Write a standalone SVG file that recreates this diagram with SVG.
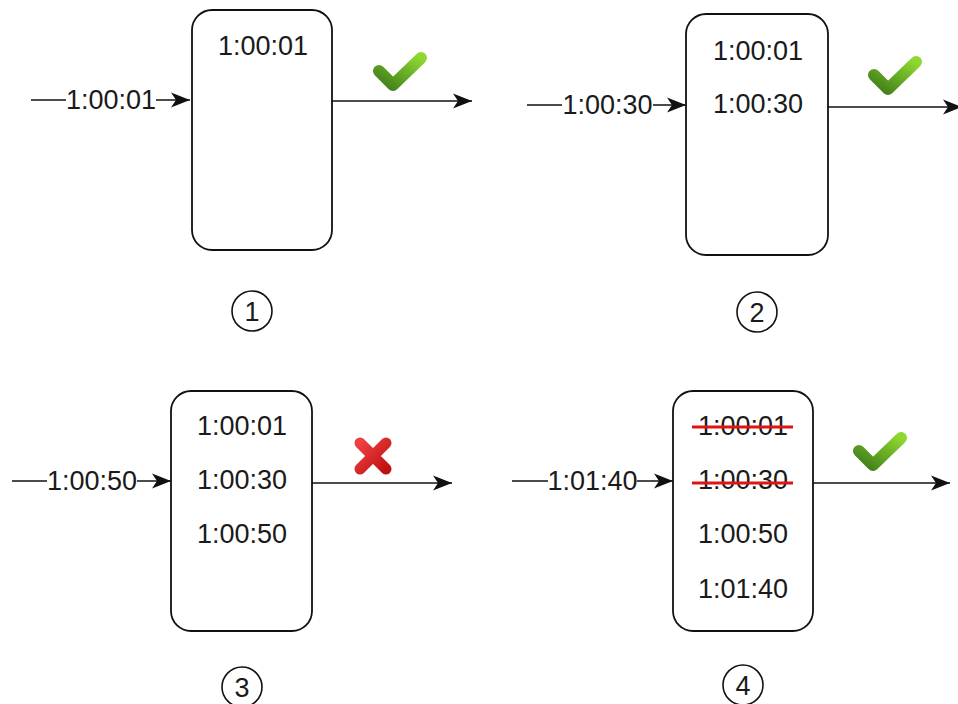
<svg xmlns="http://www.w3.org/2000/svg" width="958" height="704" viewBox="0 0 958 704">
<style>
.box{fill:#fff;stroke:#111;stroke-width:1.8}
.t{font-family:"Liberation Sans",Arial,sans-serif;font-size:27px;fill:#1a1a1a;text-anchor:middle}
.wire{fill:none;stroke:#111;stroke-width:1.6}
.lblbg{fill:#fff}
.strike{stroke:#e01414;stroke-width:3;fill:none}
.num{fill:#fff;stroke:#111;stroke-width:1.6}
</style>
<defs>
<marker id="arr" markerUnits="userSpaceOnUse" markerWidth="20" markerHeight="16" refX="19" refY="8" orient="auto" overflow="visible">
<path d="M0,0.5 L19,8 L0,15.5 L5,8 Z" fill="#111"/>
</marker>
<linearGradient id="gGreen" x1="0" y1="1" x2="1" y2="0">
<stop offset="0" stop-color="#3f7d1a"/>
<stop offset="1" stop-color="#8fd830"/>
</linearGradient>
<linearGradient id="gRed" x1="0" y1="0" x2="1" y2="1">
<stop offset="0" stop-color="#ee4040"/>
<stop offset="1" stop-color="#c01212"/>
</linearGradient>
<g id="check">
<path d="M6,19 L20,33 L48,6" fill="none" stroke="url(#gGreen)" stroke-width="12" stroke-linecap="round" stroke-linejoin="round"/>
</g>
</defs>

<g id="connectors">
<path class="wire" d="M31,100 H190" marker-end="url(#arr)"/>
<rect class="lblbg" x="66" y="88" width="90" height="24"/>
<text class="t" x="111" y="109">1:00:01</text>
<path class="wire" d="M332,101 H472" marker-end="url(#arr)"/>

<path class="wire" d="M527,105 H686" marker-end="url(#arr)"/>
<rect class="lblbg" x="562" y="93" width="91" height="24"/>
<text class="t" x="607.5" y="114">1:00:30</text>
<path class="wire" d="M828,107 H962" marker-end="url(#arr)"/>

<path class="wire" d="M12,481 H171" marker-end="url(#arr)"/>
<rect class="lblbg" x="47" y="469" width="90" height="24"/>
<text class="t" x="92" y="490">1:00:50</text>
<path class="wire" d="M312,483 H452" marker-end="url(#arr)"/>

<path class="wire" d="M512,481 H673" marker-end="url(#arr)"/>
<rect class="lblbg" x="548" y="469" width="89" height="24"/>
<text class="t" x="592.5" y="490">1:01:40</text>
<path class="wire" d="M813,483 H950" marker-end="url(#arr)"/>
</g>

<g id="window1">
<rect class="box" x="192" y="10" width="140" height="240" rx="20"/>
<text class="t" x="263" y="55">1:00:01</text>
</g>
<g id="window2">
<rect class="box" x="686" y="14" width="142" height="241" rx="20"/>
<text class="t" x="758" y="60">1:00:01</text>
<text class="t" x="758" y="113">1:00:30</text>
</g>
<g id="window3">
<rect class="box" x="171" y="391" width="141" height="240" rx="20"/>
<text class="t" x="242" y="435">1:00:01</text>
<text class="t" x="242" y="489">1:00:30</text>
<text class="t" x="242" y="543">1:00:50</text>
</g>
<g id="window4">
<rect class="box" x="673" y="391" width="140" height="240" rx="20"/>
<text class="t" x="743" y="435">1:00:01</text>
<text class="t" x="743" y="489">1:00:30</text>
<text class="t" x="743" y="543">1:00:50</text>
<text class="t" x="743" y="598">1:01:40</text>
<path class="strike" d="M692,427 H793"/>
<path class="strike" d="M692,483 H793"/>
</g>

<g id="status1"><use href="#check" transform="translate(373,52)"/></g>
<g id="status2"><use href="#check" transform="translate(868,56)"/></g>
<g id="status3">
<path d="M360,443 L386,469 M386,443 L360,469" fill="none" stroke="url(#gRed)" stroke-width="11" stroke-linecap="round"/>
</g>
<g id="status4"><use href="#check" transform="translate(853,432)"/></g>

<g id="step1"><circle class="num" cx="252" cy="311" r="20"/><text class="t" x="252" y="321">1</text></g>
<g id="step2"><circle class="num" cx="757" cy="312" r="20"/><text class="t" x="757" y="322">2</text></g>
<g id="step3"><circle class="num" cx="242" cy="687" r="20"/><text class="t" x="242" y="697">3</text></g>
<g id="step4"><circle class="num" cx="743" cy="685" r="20"/><text class="t" x="743" y="695">4</text></g>
</svg>
